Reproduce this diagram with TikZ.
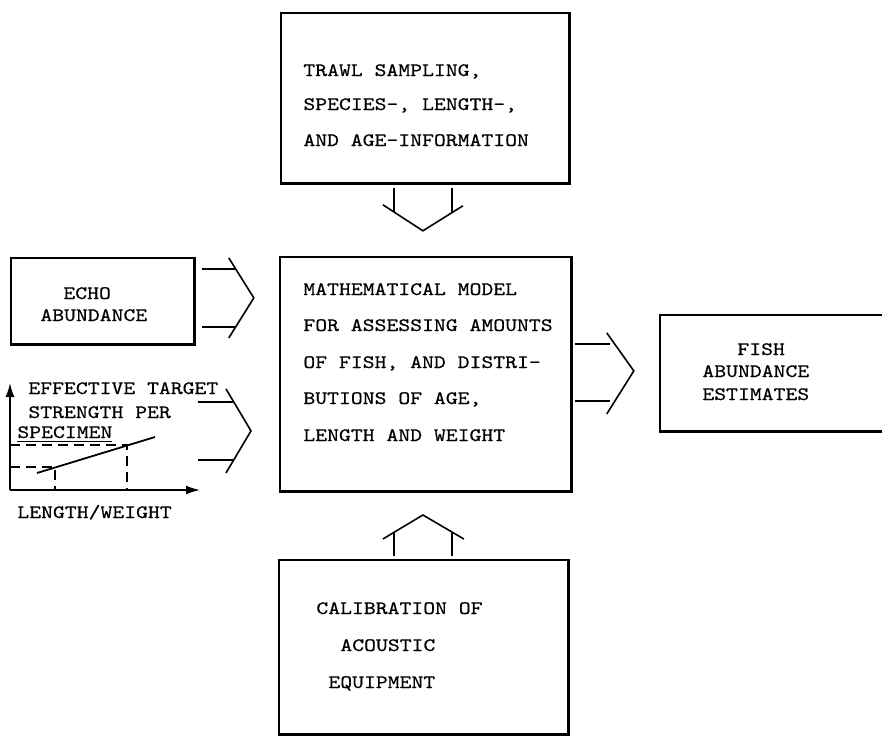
\documentclass[tikz,border=0pt]{standalone}
\usepackage{fontspec}
\newfontfamily\typew{lmmono10-regular}[Extension=.otf, FakeStretch=1.19, FakeBold=0.5]
\usetikzlibrary{arrows.meta,calc}

\begin{document}
\begin{tikzpicture}[x=0.5pt,y=0.5pt,yscale=-1,
    box/.style={draw, line width=0.9pt, inner sep=0pt, anchor=north west},
    txt/.style={anchor=base west, inner sep=0pt, font=\typew\fontsize{9.5}{12}\selectfont},
    shaft/.style={line width=0.8pt},
    chev/.style={line width=0.8pt, line join=miter},
    axis/.style={line width=0.8pt, -{Latex[length=7pt,width=4.5pt]}},
    guide/.style={line width=0.7pt, dash pattern=on 5pt off 3pt}]
\useasboundingbox (0,0) rectangle (882,735);

% boxes
\node[box, minimum width=144pt, minimum height=85pt] (trawl) at (280,12) {};
\node[box, minimum width=91.5pt, minimum height=43pt] (echo) at (10,257) {};
\node[box, minimum width=145.5pt, minimum height=117pt] (model) at (279,256) {};
\node[box, minimum width=120pt, minimum height=58pt] (fish) at (659,314) {};
\node[box, minimum width=144.5pt, minimum height=87pt] (calib) at (278,559) {};
\foreach \b in {trawl,echo,model,fish,calib}
  \draw[line width=1.5pt] (\b.north east) -- (\b.south east) -- (\b.south west);

% texts
\node[txt] (trawl1) at (303,76) {TRAWL SAMPLING,};
\node[txt] (trawl2) at (303,110) {SPECIES-, LENGTH-,};
\node[txt] (trawl3) at (303,146) {AND AGE-INFORMATION};
\node[txt] (echo1) at (63,299) {ECHO};
\node[txt] (echo2) at (40,321) {ABUNDANCE};
\node[txt] (model1) at (303,295) {MATHEMATICAL MODEL};
\node[txt] (model2) at (303,331) {FOR ASSESSING AMOUNTS};
\node[txt] (model3) at (303,368) {OF FISH, AND DISTRI-};
\node[txt] (model4) at (303,404) {BUTIONS OF AGE,};
\node[txt] (model5) at (303,441) {LENGTH AND WEIGHT};
\node[txt] (fish1) at (737,355) {FISH};
\node[txt] (fish2) at (702,377) {ABUNDANCE};
\node[txt] (fish3) at (702,400) {ESTIMATES};
\node[txt] (calib1) at (316,614) {CALIBRATION OF};
\node[txt] (calib2) at (340,651) {ACOUSTIC};
\node[txt] (calib3) at (328,688) {EQUIPMENT};
\node[txt] (ets1) at (28,394) {EFFECTIVE TARGET};
\node[txt] (ets2) at (28,418) {STRENGTH PER};
\node[txt] (ets3) at (17,438) {\underline{SPECIMEN}};
\node[txt] (lw) at (17,518) {LENGTH/WEIGHT};

% target strength graph
\coordinate (o) at (10,490);
\coordinate (p1) at (55,467);
\coordinate (p2) at (127,445);
\draw[axis] (o) -- (10,383);
\draw[axis] (o) -- (200,490);
\draw[line width=0.9pt] (37,473) -- (155,437);
\draw[guide] (o |- p2) -- (p2) -- (p2 |- o);
\draw[guide] (o |- p1) -- (p1) -- (p1 |- o);

% trawl -> model
\draw[shaft] ($(trawl.south)+(-31,4)$) -- ++(0,24);
\draw[shaft] ($(trawl.south)+(27,4)$) -- ++(0,25);
\draw[chev] ($(trawl.south)+(-42,21)$) -- ($(trawl.south)+(-2,47)$) -- ($(trawl.south)+(38,22)$);

% echo -> model
\draw[shaft] ($(echo.east)+(7,-32)$) -- ++(33,0);
\draw[shaft] ($(echo.east)+(7,26)$) -- ++(33,0);
\draw[chev] ($(echo.east)+(34,-43)$) -- ($(echo.east)+(59,-3)$) -- ($(echo.east)+(34,37)$);

% target strength -> model
\draw[shaft] ($(model.west)+(-81,28)$) -- ++(35,0);
\draw[shaft] ($(model.west)+(-81,86)$) -- ++(35,0);
\draw[chev] ($(model.west)+(-53,15)$) -- ($(model.west)+(-28,57)$) -- ($(model.west)+(-53,99)$);

% model -> fish
\draw[shaft] ($(model.east)+(3,-30)$) -- ++(35,0);
\draw[shaft] ($(model.east)+(3,27)$) -- ++(35,0);
\draw[chev] ($(model.east)+(35,-41)$) -- ($(model.east)+(62,-3)$) -- ($(model.east)+(35,40)$);

% calib -> model
\draw[shaft] ($(calib.north)+(-29.5,-3)$) -- ++(0,-24);
\draw[shaft] ($(calib.north)+(28.5,-3)$) -- ++(0,-24);
\draw[chev] ($(calib.north)+(-40.5,-20)$) -- ($(calib.north)+(-0.5,-44)$) -- ($(calib.north)+(40.5,-20)$);
\end{tikzpicture}
\end{document}
